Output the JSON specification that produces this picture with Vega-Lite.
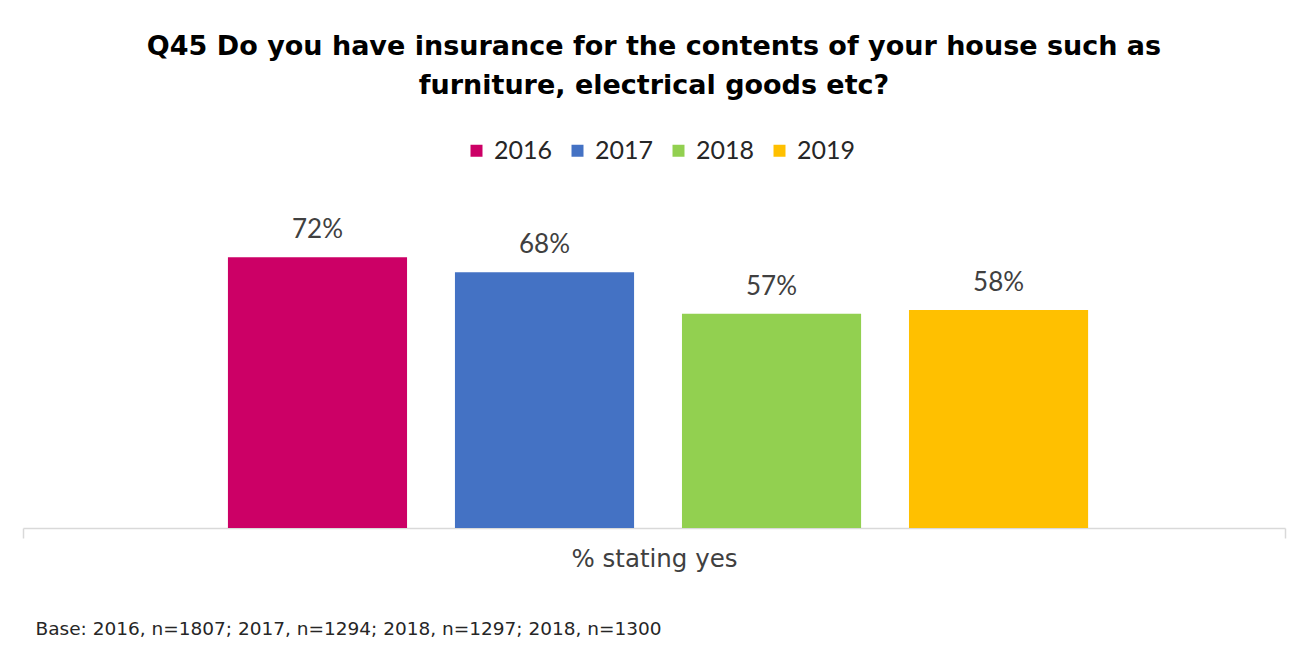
{
  "$schema": "https://vega.github.io/schema/vega-lite/v6.json",
  "autosize": "none",
  "width": 1262,
  "height": 376,
  "padding": {"left": 23, "top": 152, "right": 25, "bottom": 124},
  "background": "white",
  "title": {
    "text": ["Q45 Do you have insurance for the contents of your house such as", "furniture, electrical goods etc?"],
    "font": "DejaVu Sans",
    "fontSize": 27,
    "fontWeight": "bold",
    "color": "#000000",
    "lineHeight": 39,
    "anchor": "middle",
    "offset": 38
  },
  "data": {
    "values": [
      {"cat": "% stating yes", "year": "2016", "value": 0.72},
      {"cat": "% stating yes", "year": "2017", "value": 0.68},
      {"cat": "% stating yes", "year": "2018", "value": 0.57},
      {"cat": "% stating yes", "year": "2019", "value": 0.58}
    ]
  },
  "encoding": {
    "x": {
      "field": "cat",
      "type": "nominal",
      "scale": {"paddingInner": 0, "paddingOuter": 0},
      "axis": {
        "title": "Base: 2016, n=1807; 2017, n=1294; 2018, n=1297; 2018, n=1300",
        "titleFont": "DejaVu Sans",
        "titleFontSize": 18.5,
        "titleFontWeight": "normal",
        "titleColor": "#262626",
        "titleAnchor": "start",
        "titleAlign": "left",
        "titleBaseline": "alphabetic",
        "titleX": 12,
        "titleY": 106,
        "labelFont": "DejaVu Sans",
        "labelFontSize": 24.5,
        "labelColor": "#404040",
        "labelAngle": 0,
        "labelPadding": 9,
        "domainColor": "#d9d9d9",
        "domainWidth": 1.5,
        "ticks": true,
        "tickBand": "extent",
        "tickColor": "#d9d9d9",
        "tickWidth": 1.5,
        "tickSize": 10
      }
    },
    "xOffset": {
      "field": "year",
      "type": "nominal",
      "scale": {"paddingInner": 0.211, "paddingOuter": 0.885, "align": 0.51}
    },
    "y": {
      "field": "value",
      "type": "quantitative",
      "scale": {"domain": [0, 1]},
      "axis": null
    }
  },
  "layer": [
    {
      "mark": {"type": "bar"},
      "encoding": {
        "color": {
          "field": "year",
          "type": "nominal",
          "scale": {"domain": ["2016", "2017", "2018", "2019"], "range": ["#CC0066", "#4472C4", "#92D050", "#FFC000"]},
          "legend": {
            "title": null,
            "orient": "none",
            "direction": "horizontal",
            "legendX": 441,
            "legendY": -14,
            "symbolType": "square",
            "symbolSize": 144,
            "symbolStrokeWidth": 0,
            "symbolOpacity": 1,
            "labelFont": "Lato",
            "labelFontSize": 25,
            "labelColor": "#262626",
            "labelOffset": 5,
            "columnPadding": 12,
            "padding": 0
          }
        }
      }
    },
    {
      "mark": {"type": "text", "baseline": "alphabetic", "dy": -19, "font": "Lato", "fontSize": 26, "color": "#404040"},
      "encoding": {
        "text": {"field": "value", "type": "quantitative", "format": ".0%"}
      }
    }
  ],
  "config": {
    "view": {"stroke": null}
  }
}
